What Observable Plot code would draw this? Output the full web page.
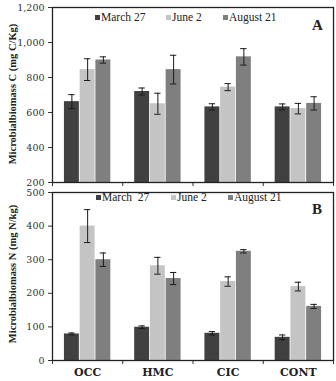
<!DOCTYPE html>
<html>
<head>
<meta charset="utf-8">
<script src="https://cdn.jsdelivr.net/npm/d3@7"></script>
<script src="https://cdn.jsdelivr.net/npm/@observablehq/plot@0.6"></script>
<style>
  html, body { margin: 0; padding: 0; background: #fff; }
  #wrap { position: relative; width: 336px; height: 381px; overflow: hidden; font-family: "Liberation Serif", "DejaVu Serif", serif; color: #222; }
  .panel { position: absolute; left: 0; }
  .legend { position: absolute; font-size: 11.5px; white-space: pre; display: flex; align-items: center; }
  .sw { display: inline-block; width: 5px; height: 5px; margin-right: 1px; }
  .tag { position: absolute; font-size: 15px; font-weight: bold; }
</style>
</head>
<body>
<div id="wrap"></div>
<script>
// Sites and sampling dates
const sites = ["OCC", "HMC", "CIC", "CONT"];
const dates = ["March 27", "June 2", "August 21"];
const dateColors = ["#404040", "#c4c4c4", "#7f7f7f"];

// Microbial biomass C (mg C/kg): rows = sites, columns = dates
const carbonMean = [
  [662, 845, 900],
  [720, 650, 845],
  [632, 745, 918],
  [632, 622, 652]
];
const carbonErr = [
  [40, 62, 18],
  [20, 60, 82],
  [18, 20, 47],
  [17, 30, 38]
];

// Microbial biomass N (mg N/kg)
const nitrogenMean = [
  [79, 400, 300],
  [99, 282, 244],
  [81, 235, 325],
  [69, 220, 161]
];
const nitrogenErr = [
  [3, 49, 20],
  [4, 25, 18],
  [5, 14, 5],
  [7, 13, 6]
];

const yTicksC = [200, 400, 600, 800, 1000, 1200];
const yTicksN = [0, 100, 200, 300, 400, 500];

const barW = 0.224;   // bar width in group units
const capW = 0.045;   // half width of error-bar caps

function rows(means, errs) {
  const out = [];
  sites.forEach((s, i) => dates.forEach((d, j) => {
    const c = i + 0.5 + (j - 1) * barW;
    out.push({site: s, date: d, value: means[i][j], err: errs[i][j],
              x1: c - barW / 2, x2: c + barW / 2, xc: c});
  }));
  return out;
}

function panel({means, errs, yDomain, yTicks, height, marginTop, marginBottom, showSites}) {
  const data = rows(means, errs);
  const marks = [
    Plot.rectY(data, {x1: "x1", x2: "x2", y1: yDomain[0], y2: "value", fill: "date", insetLeft: 0.4, insetRight: 0.4}),
    Plot.ruleX(data, {x: "xc", y1: d => d.value - d.err, y2: d => d.value + d.err, stroke: "#1a1a1a", strokeWidth: 1}),
    Plot.ruleY(data, {y: d => d.value + d.err, x1: d => d.xc - capW, x2: d => d.xc + capW, stroke: "#1a1a1a", strokeWidth: 1}),
    Plot.ruleY(data, {y: d => d.value - d.err, x1: d => d.xc - capW, x2: d => d.xc + capW, stroke: "#1a1a1a", strokeWidth: 1}),
    Plot.frame({stroke: "#222", strokeWidth: 1.3})
  ];
  if (showSites) {
    marks.push(Plot.text(sites, {x: (d, i) => i + 0.5, frameAnchor: "bottom", dy: 15,
      text: d => d, fontWeight: "bold", fontSize: 11, fill: "#222"}));
  }
  return Plot.plot({
    width: 336,
    height,
    marginLeft: 52,
    marginRight: 3,
    marginTop,
    marginBottom,
    style: {fontFamily: "'DejaVu Serif', serif", fontSize: "9.5px", color: "#333", background: "transparent", overflow: "visible"},
    x: {domain: [0, 4], ticks: [0, 1, 2, 3, 4], tickFormat: () => "", tickSize: 4, label: null},
    y: {domain: yDomain, ticks: yTicks, tickFormat: d3.format(","), tickSize: 4, tickPadding: 4, label: null},
    color: {domain: dates, range: dateColors},
    marks
  });
}

const wrap = document.getElementById("wrap");

const chartA = panel({means: carbonMean, errs: carbonErr, yDomain: [200, 1200], yTicks: yTicksC,
  height: 190, marginTop: 7, marginBottom: 8, showSites: false});
chartA.classList.add("panel");
chartA.style.top = "0px";

const chartB = panel({means: nitrogenMean, errs: nitrogenErr, yDomain: [0, 500], yTicks: yTicksN,
  height: 197, marginTop: 8, marginBottom: 21, showSites: true});
chartB.classList.add("panel");
chartB.style.top = "184px";

wrap.appendChild(chartB);
wrap.appendChild(chartA);

// Legends and panel tags
function legend(top, items) {
  items.forEach(([label, color, left]) => {
    const el = document.createElement("div");
    el.className = "legend";
    el.style.top = top + "px";
    el.style.left = left + "px";
    el.innerHTML = `<span class="sw" style="background:${color}"></span>${label}`;
    wrap.appendChild(el);
  });
}
legend(11, [["March 27", dateColors[0], 95], ["June 2", dateColors[1], 166], ["August 21", dateColors[2], 223]]);
legend(191, [["March  27", dateColors[0], 96], ["June 2", dateColors[1], 171], ["August 21", dateColors[2], 228]]);

function tag(text, left, top) {
  const el = document.createElement("div");
  el.className = "tag";
  el.textContent = text;
  el.style.left = left + "px";
  el.style.top = top + "px";
  wrap.appendChild(el);
}
tag("A", 312, 17);
tag("B", 312, 201);

// Rotated y-axis titles
function yTitle(text, centerY) {
  const el = document.createElement("div");
  el.textContent = text;
  Object.assign(el.style, {
    position: "absolute", left: "12px", top: centerY + "px", fontWeight: "bold", fontSize: "10.5px",
    whiteSpace: "nowrap", transform: "translate(-50%, -50%) rotate(-90deg)"
  });
  wrap.appendChild(el);
}
yTitle("Microbialbiomass C (mg C/Kg)", 94);
yTitle("Microbialbiomass N (mg N/kg)", 274);
</script>
</body>
</html>
